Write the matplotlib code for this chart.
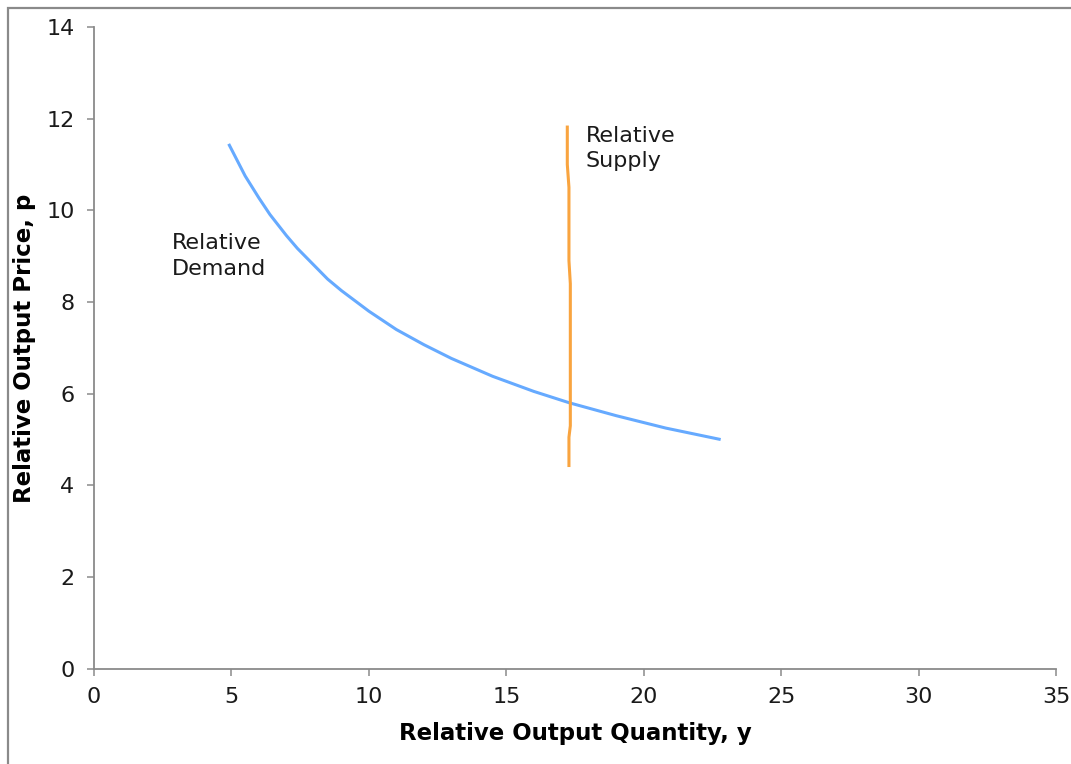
import matplotlib
matplotlib.use("Agg")
import matplotlib.pyplot as plt
from matplotlib.patches import Rectangle

# Data
demand_y = [4.9, 5.5, 6.0, 6.4, 7.0, 7.4, 8.5, 9.0, 10.0, 11.0, 12.0, 13.0, 14.5, 16.0, 17.3, 19.0, 20.8, 22.8]
demand_p = [11.45, 10.75, 10.27, 9.91, 9.45, 9.17, 8.5, 8.25, 7.8, 7.4, 7.07, 6.77, 6.38, 6.05, 5.8, 5.52, 5.25, 5.0]
supply_y = [17.22, 17.22, 17.28, 17.28, 17.33, 17.33, 17.28, 17.28]
supply_p = [11.85, 11.0, 10.5, 8.9, 8.4, 5.3, 5.05, 4.4]
x_ticks = [0, 5, 10, 15, 20, 25, 30, 35]
y_ticks = [0, 2, 4, 6, 8, 10, 12, 14]

W, H = 1071, 764
fig = plt.figure(figsize=(W / 100, H / 100), dpi=100)
fig.patch.set_facecolor("white")
# outer frame (left and top visible)
fig.patches.append(Rectangle((8 / W, -0.05), 1.2, 1 - 8 / H + 0.05, transform=fig.transFigure,
                             fill=False, edgecolor="#8a8a8a", linewidth=1.6, zorder=0))

ax = fig.add_axes([94 / W, 1 - 668.7 / H, (1056 - 94) / W, (668.7 - 27) / H])
ax.plot(demand_y, demand_p, color="#66aaff", linewidth=2.2, solid_capstyle="butt", solid_joinstyle="round")
ax.plot(supply_y, supply_p, color="#f9a43f", linewidth=2.2, solid_capstyle="butt", solid_joinstyle="round")

ax.set_xlim(0, 35)
ax.set_ylim(0, 14)
ax.set_xticks(x_ticks)
ax.set_yticks(y_ticks)
for s in ["top", "right"]:
    ax.spines[s].set_visible(False)
for s in ["left", "bottom"]:
    ax.spines[s].set_color("#8a8a8a")
    ax.spines[s].set_linewidth(1.3)
ax.tick_params(axis="both", direction="out", length=5, width=1.1, color="#8a8a8a",
               labelsize=16, labelcolor="#1a1a1a")
ax.tick_params(axis="y", pad=9)
ax.tick_params(axis="x", pad=8)

ax.set_xlabel("Relative Output Quantity, y", fontsize=16.5, fontweight="bold", labelpad=11)
ax.set_ylabel("Relative Output Price, p", fontsize=16.5, fontweight="bold", labelpad=7)

ax.text(2.85, 9.5, "Relative\nDemand", fontsize=16, color="#1a1a1a", va="top", ha="left", linespacing=1.35)
ax.text(17.9, 11.85, "Relative\nSupply", fontsize=16, color="#1a1a1a", va="top", ha="left", linespacing=1.35)

fig.savefig("out.png", dpi=100)
